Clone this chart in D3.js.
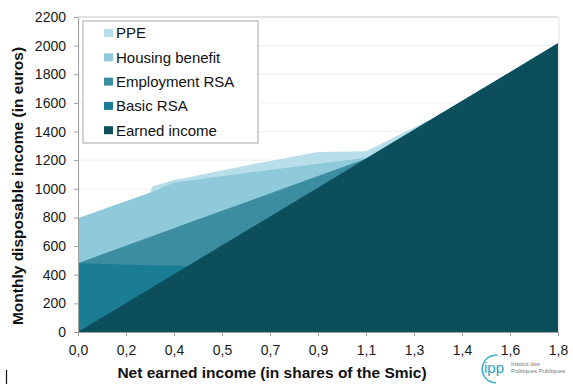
<!DOCTYPE html>
<html>
<head>
<meta charset="utf-8">
<script src="https://cdn.jsdelivr.net/npm/d3@7/dist/d3.min.js"></script>
<style>
    body { margin: 0; background: #fff; }
    svg { display: block; font-family: "Liberation Sans", Arial, sans-serif; }
</style>
</head>
<body>
<svg id="chart" width="573" height="385"></svg>
<script>
// Data
const share = [0, 0.27, 0.28, 0.36, 0.41, 0.65, 0.9, 1.08, 1.34, 1.8];
const earnedIncome = [0, 302, 314, 403, 459, 728, 1008, 1210, 1501, 2016];
const basicRSA = [481, 164, 152, 62, 0, 0, 0, 0, 0, 0];
const employmentRSA = [0, 198, 205, 260, 300, 193, 82, 0, 0, 0];
const housingBenefit = [314, 308, 309, 320, 298, 194, 85, 7, 0, 0];
const ppe = [0, 0, 38, 17, 22, 55, 82, 46, 0, 0];

const xTicks = [0, 0.18, 0.36, 0.54, 0.72, 0.9, 1.08, 1.26, 1.44, 1.62, 1.8];
const xTickLabels = ['0,0', '0,2', '0,4', '0,5', '0,7', '0,9', '1,1', '1,3', '1,4', '1,6', '1,8'];
const yTicks = [0, 200, 400, 600, 800, 1000, 1200, 1400, 1600, 1800, 2000, 2200];

const keys = ['earned', 'basic', 'employment', 'housing', 'ppe'];
const labels = {
    earned: 'Earned income',
    basic: 'Basic RSA',
    employment: 'Employment RSA',
    housing: 'Housing benefit',
    ppe: 'PPE'
};
const colors = {
    earned: '#0d4e5d',
    basic: '#1a7d93',
    employment: '#3c8d9f',
    housing: '#8ecada',
    ppe: '#b8dee9'
};

const table = share.map((s, i) => ({
    share: s,
    earned: earnedIncome[i],
    basic: basicRSA[i],
    employment: employmentRSA[i],
    housing: housingBenefit[i],
    ppe: ppe[i]
}));

const svg = d3.select('#chart');

const x = d3.scaleLinear().domain([0, 1.8]).range([78, 558]);
const y = d3.scaleLinear().domain([0, 2200]).range([332, 17]);

// -------------------------------------------------------------------------
// Grid
// -------------------------------------------------------------------------
svg.append('g')
    .selectAll('line')
    .data(yTicks.slice(1))
    .enter().append('line')
    .attr('x1', x(0)).attr('x2', x(1.8))
    .attr('y1', d => y(d)).attr('y2', d => y(d))
    .attr('stroke', d => d == 2200 ? '#c4c4c4' : '#eeeeee')
    .attr('stroke-width', 1);

svg.append('line')
    .attr('x1', x(1.8) + 1).attr('x2', x(1.8) + 1)
    .attr('y1', y(2200)).attr('y2', y(0))
    .attr('stroke', '#e2e2e2');

// -------------------------------------------------------------------------
// Areas (each layer drawn from zero to its stacked top, top layer first)
// -------------------------------------------------------------------------
const series = d3.stack().keys(keys)(table);

const area = d3.area()
    .x(d => x(d.data.share))
    .y0(y(0))
    .y1(d => y(d[1]));

svg.append('g')
    .selectAll('path')
    .data(series.slice().reverse())
    .enter().append('path')
    .attr('d', area)
    .attr('fill', d => colors[d.key]);

// -------------------------------------------------------------------------
// Axes
// -------------------------------------------------------------------------
const xAxis = svg.append('g')
    .attr('transform', `translate(0, ${y(0)})`)
    .call(d3.axisBottom(x)
        .tickValues(xTicks)
        .tickFormat((d, i) => xTickLabels[i])
        .tickSize(4)
        .tickSizeOuter(0));

const yAxis = svg.append('g')
    .attr('transform', `translate(${x(0)}, 0)`)
    .call(d3.axisLeft(y)
        .tickValues(yTicks)
        .tickFormat(d3.format('d'))
        .tickSize(4)
        .tickSizeOuter(0));

[xAxis, yAxis].forEach(a => {
    a.select('.domain').attr('stroke', '#a0a0a0');
    a.selectAll('.tick line').attr('stroke', '#a0a0a0');
    a.selectAll('.tick text')
        .attr('font-size', 14)
        .attr('font-family', '"Liberation Sans", Arial, sans-serif')
        .attr('fill', '#1a1a1a');
});
xAxis.selectAll('.tick text').attr('dy', '1.15em');
yAxis.selectAll('.tick text').attr('x', -12);

// Axis titles
svg.append('text')
    .attr('x', 272)
    .attr('y', 378)
    .attr('text-anchor', 'middle')
    .attr('font-size', 15.5)
    .attr('font-weight', 'bold')
    .attr('fill', '#111')
    .text('Net earned income (in shares of the Smic)');

svg.append('text')
    .attr('transform', 'translate(23, 186) rotate(-90)')
    .attr('text-anchor', 'middle')
    .attr('font-size', 15.5)
    .attr('font-weight', 'bold')
    .attr('fill', '#111')
    .text('Monthly disposable income (in euros)');

// -------------------------------------------------------------------------
// Legend
// -------------------------------------------------------------------------
const legend = svg.append('g');
legend.append('rect')
    .attr('x', 83).attr('y', 21)
    .attr('width', 175).attr('height', 122)
    .attr('fill', '#fff')
    .attr('stroke', '#a8a8a8');

const legendKeys = keys.slice().reverse();
const rows = legend.selectAll('.row')
    .data(legendKeys)
    .enter().append('g')
    .attr('transform', (d, i) => `translate(104, ${33 + i * 24.3})`);
rows.append('rect')
    .attr('x', 0).attr('y', -4)
    .attr('width', 9).attr('height', 8)
    .attr('fill', d => colors[d]);
rows.append('text')
    .attr('x', 12)
    .attr('dy', '0.36em')
    .attr('font-size', 15)
    .attr('fill', '#111')
    .text(d => labels[d]);

// -------------------------------------------------------------------------
// IPP logo
// -------------------------------------------------------------------------
const logo = svg.append('g').attr('transform', 'translate(496, 369)');
const arc = d3.arc().innerRadius(13).outerRadius(14.5);
logo.append('path')
    .attr('d', arc({startAngle: -Math.PI * 0.6, endAngle: 0.1}))
    .attr('fill', '#3eb0c9');
logo.append('path')
    .attr('d', arc({startAngle: Math.PI + 0.0, endAngle: Math.PI * 1.55}))
    .attr('fill', '#3eb0c9');
logo.append('text')
    .attr('x', -12).attr('y', 4)
    .attr('font-size', 15)
    .attr('fill', '#2aa3bf')
    .text('ipp');
logo.append('text')
    .attr('x', 15).attr('y', -3)
    .attr('font-size', 6)
    .attr('fill', '#777')
    .text('Institut des');
logo.append('text')
    .attr('x', 15).attr('y', 4)
    .attr('font-size', 6)
    .attr('fill', '#777')
    .text('Politiques Publiques');

// stray mark at bottom left of the original
svg.append('line')
    .attr('x1', 6.5).attr('x2', 6.5)
    .attr('y1', 370).attr('y2', 384)
    .attr('stroke', '#111')
    .attr('stroke-width', 1.2);
</script>
</body>
</html>
